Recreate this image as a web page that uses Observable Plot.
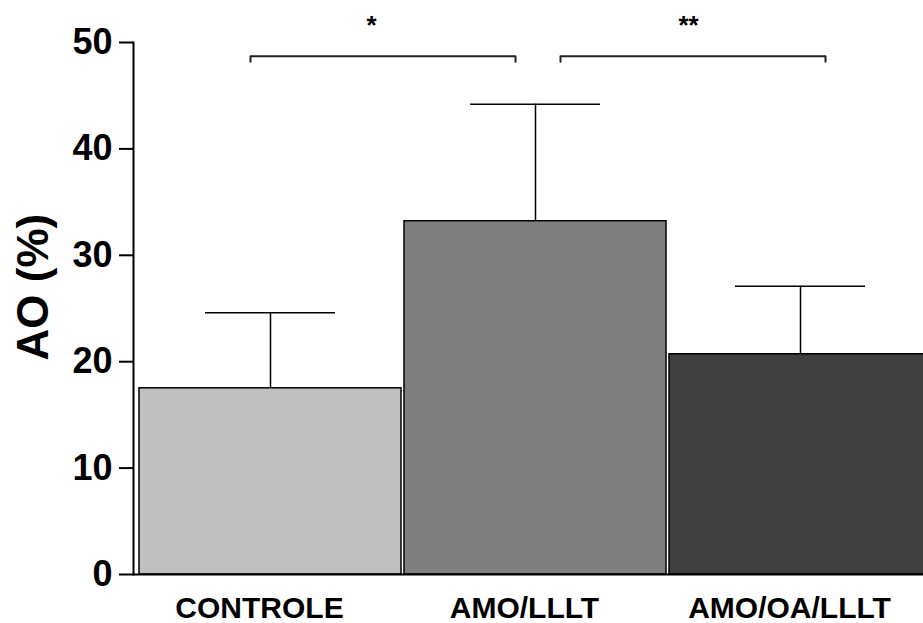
<!DOCTYPE html>
<html>
<head>
<meta charset="utf-8">
<script src="https://cdn.jsdelivr.net/npm/d3@7"></script>
<script src="https://cdn.jsdelivr.net/npm/@observablehq/plot@0.6"></script>
<style>
  html, body { margin: 0; padding: 0; background: white; overflow: hidden; }
</style>
</head>
<body>
<div id="chart"></div>
<script>
// Data
const categories = ["CONTROLE", "AMO/LLLT", "AMO/OA/LLLT"];
const means = [17.5, 33.2, 20.7];
const errors = [7.1, 11.0, 6.4];
const fills = ["#bfbfbf", "#7f7f7f", "#404040"];
const yTicks = [0, 10, 20, 30, 40, 50];
const yLabel = "AO (%)";
// significance comparisons
const comparisons = [
  {from: "CONTROLE", to: "AMO/LLLT", label: "*"},
  {from: "AMO/LLLT", to: "AMO/OA/LLLT", label: "**"}
];
const bracketLevel = 48.7;
const bracketDrop = 48.2;
const starLevel = 51.6;

const rows = categories.map((c, i) => ({cat: c, mean: means[i], err: errors[i], top: means[i] + errors[i], fill: fills[i]}));
const bracketPts = (cmp) => [
  {x: cmp.from, y: bracketDrop},
  {x: cmp.from, y: bracketLevel},
  {x: cmp.to, y: bracketLevel},
  {x: cmp.to, y: bracketDrop}
];

const font = "'Liberation Sans', Arial, sans-serif";

const chart = Plot.plot({
  width: 923,
  height: 623,
  marginLeft: 133,
  marginRight: 0,
  marginTop: 42,
  marginBottom: 49,
  style: {fontFamily: font, background: "white", color: "black"},
  x: {domain: categories, range: [138, 931], paddingInner: 0.013, paddingOuter: 0, axis: null},
  y: {domain: [0, 50], axis: null},
  marks: [
    Plot.barY(rows, {x: "cat", y: "mean", fill: "fill", stroke: "black", strokeWidth: 1.5}),
    Plot.ruleX(rows, {x: "cat", y1: "mean", y2: "top", stroke: "black", strokeWidth: 1.5}),
    Plot.tickY(rows, {x: "cat", y: "top", stroke: "black", strokeWidth: 1.5, insetLeft: 66, insetRight: 66}),
    Plot.ruleY([0], {stroke: "black", strokeWidth: 2}),
    Plot.frame({anchor: "left", stroke: "black", strokeWidth: 2}),
    Plot.axisY({ticks: yTicks, tickSize: 14, tickPadding: 7, strokeWidth: 2, fontSize: 36, fontWeight: "bold", label: null, tickFormat: d => d}),
    Plot.axisX({tickSize: 0, tickPadding: 22, fontSize: 30, fontWeight: "bold", dx: -11, label: null}),
    Plot.text([yLabel], {frameAnchor: "left", rotate: -90, dx: -100, dy: 52, fontSize: 44, fontWeight: "bold"}),
    Plot.line(bracketPts(comparisons[0]), {x: "x", y: "y", dx: -20, stroke: "#222", strokeWidth: 2}),
    Plot.line(bracketPts(comparisons[1]), {x: "x", y: "y", dx: 25, stroke: "#222", strokeWidth: 2}),
    Plot.text([comparisons[0]], {x: "from", y: () => starLevel, text: "label", dx: 101, fontSize: 26, fontWeight: "bold"}),
    Plot.text([comparisons[1]], {x: "from", y: () => starLevel, text: "label", dx: 153, fontSize: 26, fontWeight: "bold"})
  ]
});
document.getElementById("chart").appendChild(chart);
</script>
</body>
</html>
